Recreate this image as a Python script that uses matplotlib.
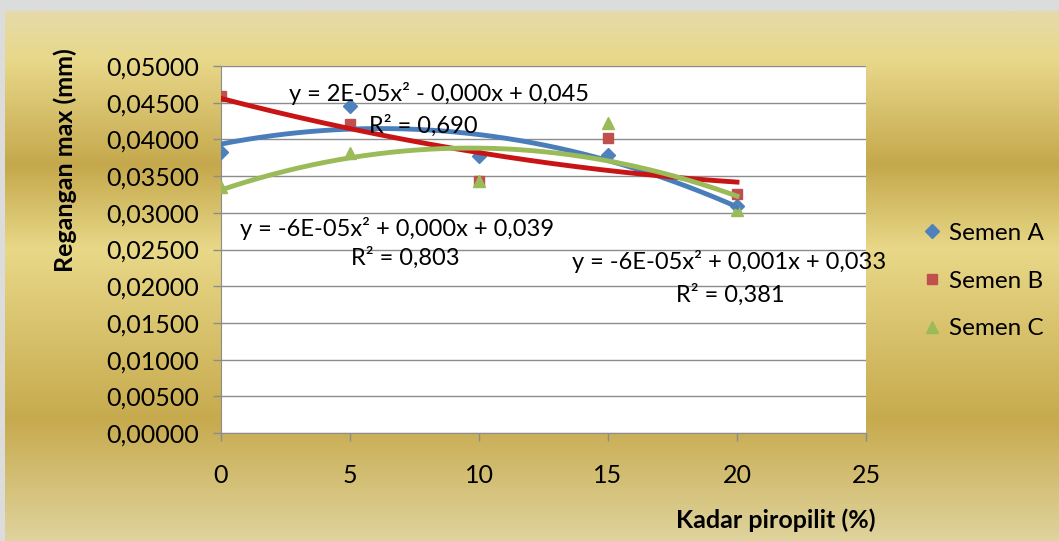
import numpy as np
import matplotlib
matplotlib.use("Agg")
import matplotlib.pyplot as plt
from matplotlib.colors import LinearSegmentedColormap
from matplotlib.ticker import FuncFormatter, MultipleLocator

plt.rcParams['font.family'] = ['Lato', 'DejaVu Sans']

# data
kadar = [0, 5, 10, 15, 20]
semen_a = [0.03828, 0.04455, 0.03774, 0.03787, 0.03093]
semen_b = [0.04590, 0.04210, 0.03440, 0.04020, 0.03260]
semen_c = [0.03352, 0.03815, 0.03440, 0.04230, 0.03040]
names = ["Semen A", "Semen B", "Semen C"]
eq_labels = [
    ("y = -6E-05x² + 0,000x + 0,039", "R² = 0,803"),
    ("y = 2E-05x² - 0,000x + 0,045", "R² = 0,690"),
    ("y = -6E-05x² + 0,001x + 0,033", "R² = 0,381"),
]

W, H = 1059, 541
fig = plt.figure(figsize=(W / 100, H / 100), dpi=100)
fig.patch.set_facecolor("#dcdcdc")

# gold gradient chart area
bg = fig.add_axes([5 / W, 0, 1 - 5 / W, (H - 11) / H])
stops = [(0.0, "#e5dba8"), (0.09, "#e8d88a"), (0.29, "#c5a84c"),
         (0.45, "#e8d888"), (0.77, "#c7aa4e"), (1.0, "#dfd39c")]
cmap = LinearSegmentedColormap.from_list("gold", stops)
grad = np.linspace(0, 1, 512).reshape(-1, 1)
bg.imshow(grad, aspect="auto", cmap=cmap, extent=[0, 1, 0, 1], origin="upper")
bg.set_axis_off()

ax = fig.add_axes([221 / W, (H - 433) / H, (866 - 221) / W, (433 - 66) / H])
ax.set_facecolor("white")
ax.set_xlim(0, 25)
ax.set_ylim(0, 0.05)
ax.xaxis.set_major_locator(MultipleLocator(5))
ax.yaxis.set_major_locator(MultipleLocator(0.005))
ax.yaxis.set_major_formatter(FuncFormatter(lambda v, p: f"{v:.5f}".replace(".", ",")))
ax.grid(axis="y", color="#8c8c8c", lw=1)
ax.set_axisbelow(True)
for s in ["top", "right"]:
    ax.spines[s].set_visible(False)
for s in ["left", "bottom"]:
    ax.spines[s].set_color("#8c8c8c")
ax.tick_params(colors="#8c8c8c", labelcolor="black", labelsize=18, length=6, width=1)
ax.tick_params(axis="x", pad=16)
ax.tick_params(axis="y", pad=10)

series = [semen_a, semen_b, semen_c]
mcolors = ["#4f81bd", "#c0504d", "#9bbb59"]
lcolors = ["#4a7ebb", "#c81414", "#9bbb59"]
markers = ["D", "s", "^"]
msizes = [7, 7, 8]
eq_pos = [((6.81, 0.0279), (7.13, 0.0239)),
          ((8.45, 0.0462), (7.86, 0.0419)),
          ((19.69, 0.0233), (19.73, 0.0188))]

xs = np.linspace(0, 20, 200)
for ys, mc, lc, mk, ms, name, (eq, r2), (p1, p2) in zip(
        series, mcolors, lcolors, markers, msizes, names, eq_labels, eq_pos):
    ax.plot(kadar, ys, ls="none", marker=mk, ms=ms, color=mc, label=name, zorder=3)
    coef = np.polyfit(kadar, ys, 2)
    ax.plot(xs, np.polyval(coef, xs), color=lc, lw=3.5, zorder=4)
    ax.text(p1[0], p1[1], eq, ha="center", va="center", fontsize=17, zorder=5, clip_on=False)
    ax.text(p2[0], p2[1], r2, ha="center", va="center", fontsize=17, zorder=5, clip_on=False)

handles = ax.get_legend_handles_labels()
leg = fig.legend(*handles, loc="center left", bbox_to_anchor=(898 / W, 1 - 281 / H),
                 frameon=False, fontsize=17.5, handletextpad=0.2, labelspacing=1.1,
                 handlelength=1.0)

fig.text(65 / W, 1 - 160 / H, "Regangan max (mm)", rotation=90, ha="center", va="center",
         fontsize=18, fontweight="bold")
fig.text(876 / W, 1 - 520 / H, "Kadar piropilit (%)", ha="right", va="center",
         fontsize=18, fontweight="bold")

fig.savefig("out.png", dpi=100)
